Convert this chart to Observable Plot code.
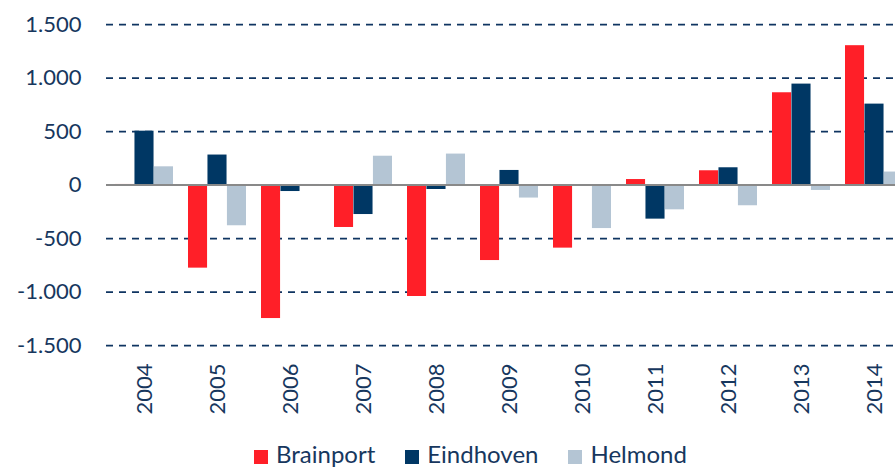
<!DOCTYPE html>
<html><head><meta charset="utf-8">
<script src="https://cdn.jsdelivr.net/npm/d3@7"></script>
<script src="https://cdn.jsdelivr.net/npm/@observablehq/plot@0.6"></script>
<style>
html,body{margin:0;padding:0;background:#fff;overflow:hidden}
#chart svg{display:block}
.legend{height:28px;line-height:28px;font-family:Lato,sans-serif;font-size:24px;color:#17375e;display:flex;align-items:center;padding-left:254px;margin-top:0px;white-space:nowrap}
.item{display:flex;align-items:center;margin-right:30px}
.sw{width:14px;height:14px;margin-right:8px;position:relative;top:3px}
</style></head><body>
<div id="chart"></div>
<div class="legend" id="legend"></div>
<script>
const years = ["2004","2005","2006","2007","2008","2009","2010","2011","2012","2013","2014"];
const series = ["Brainport","Eindhoven","Helmond"];
const colors = ["#ff1f28","#003764","#b4c5d4"];
const brainport = [5, -777, -1248, -397, -1042, -706, -590, 51, 133, 862, 1302];
const eindhoven = [503, 280, -61, -276, -42, 136, 0, -319, 161, 943, 756];
const helmond = [170, -381, 5, 269, 289, -122, -407, -232, -194, -51, 121];
const yTicks = [-1500, -1000, -500, 0, 500, 1000, 1500];
const gridTicks = [-1500, -1000, -500, 500, 1000, 1500];

const valuesBySeries = [brainport, eindhoven, helmond];
const rows = years.flatMap((year, i) => series.map((s, k) => ({year, series: s, value: valuesBySeries[k][i]})));

const W = 895, H = 440;
const xRange = [107.5, 910.5], pIn = 0.2, pOut = 0.1;
const step = (xRange[1] - xRange[0]) / (years.length - pIn + 2 * pOut);
const bw = step * (1 - pIn);
const sub = bw / 3;

const nl = d3.formatLocale({decimal: ",", thousands: ".", grouping: [3], currency: ["€", ""], minus: "-"});
const fmt = nl.format(",");

const bars = series.map((s, k) => Plot.barY(rows.filter(r => r.series === s), {
  x: "year", y: "value", fill: colors[k],
  insetLeft: k * sub, insetRight: (2 - k) * sub
}));

const chart = Plot.plot({
  width: W, height: H,
  marginLeft: 106, marginRight: 0, marginTop: 24, marginBottom: 95,
  style: {fontFamily: "Lato, sans-serif", fontSize: "22px", color: "#17375e", background: "#fff", overflow: "hidden"},
  x: {type: "band", domain: years, range: xRange, paddingInner: pIn, paddingOuter: pOut,
      tickSize: 0, tickPadding: 18, tickRotate: -90, label: null},
  y: {domain: [-1500, 1500], ticks: yTicks, tickSize: 0, tickPadding: 25, tickFormat: fmt, label: null},
  marks: [
    Plot.ruleY(gridTicks, {stroke: "#0f3461", strokeWidth: 1.75, strokeDasharray: "7,6"}),
    ...bars,
    Plot.ruleY([0], {stroke: "#898989", strokeWidth: 2})
  ]
});
document.getElementById("chart").appendChild(chart);

const legend = document.getElementById("legend");
series.forEach((s, k) => {
  const item = document.createElement("div");
  item.className = "item";
  const sw = document.createElement("span");
  sw.className = "sw";
  sw.style.background = colors[k];
  const t = document.createElement("span");
  t.textContent = s;
  item.appendChild(sw); item.appendChild(t);
  legend.appendChild(item);
});
</script>
</body></html>
